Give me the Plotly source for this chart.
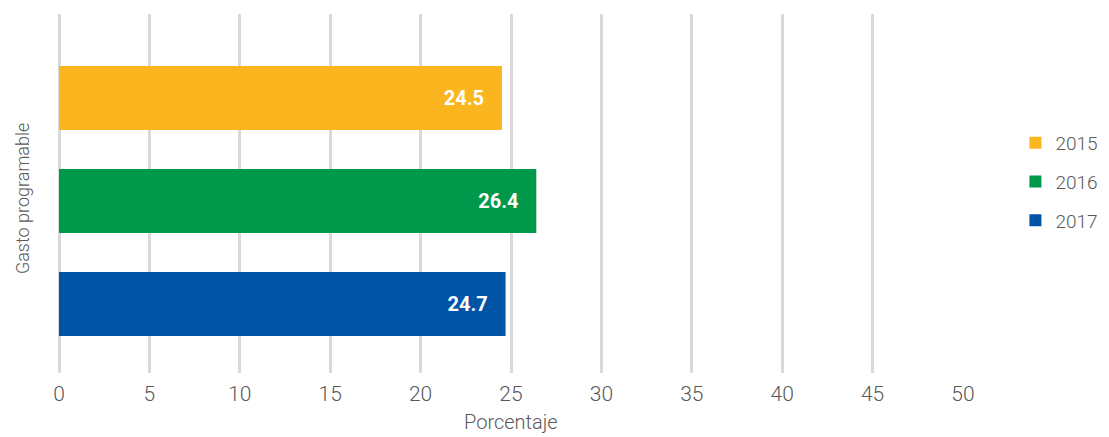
import plotly.graph_objects as go

category = ["Gasto programable"]
years = ["2015", "2016", "2017"]
values = {"2015": [24.5], "2016": [26.4], "2017": [24.7]}
colors = {"2015": "#FBB51E", "2016": "#00984A", "2017": "#0054A6"}

FONT = "Roboto"
GREY = "#595959"

fig = go.Figure()
for rank, yr in reversed(list(enumerate(years))):
    fig.add_trace(go.Bar(
        y=category, x=values[yr], name=yr, orientation="h", legendgroup=yr,
        legendrank=rank + 1,
        marker=dict(color=colors[yr], line=dict(width=0)),
        texttemplate="%{x:.1f}\u00a0\u00a0\u00a0", textposition="inside",
        insidetextanchor="end",
        textfont=dict(color="white", size=20, family=FONT, weight="bold"),
    ))

fig.update_layout(
    width=1093, height=429,
    margin=dict(l=51, r=138, t=6, b=64, autoexpand=False),
    plot_bgcolor="white", paper_bgcolor="white",
    barmode="group", bargap=0.139, bargroupgap=0.379,
    font=dict(family=FONT, size=21, color=GREY, weight=300),
    showlegend=True,
    legend=dict(traceorder="grouped", x=1.058, y=0.532, xanchor="left", yanchor="middle",
                font=dict(size=19, color=GREY, weight=300), itemwidth=30, tracegroupgap=11,
                bgcolor="rgba(0,0,0,0)"),
    xaxis=dict(range=[0, 50], tick0=0, dtick=5, showgrid=True, gridcolor="#D9D9D9",
               gridwidth=2.5, zeroline=True, zerolinecolor="#D9D9D9", zerolinewidth=2.5,
               showline=False, ticks="", ticklabelstandoff=6, automargin=False,
               tickfont=dict(size=21, color=GREY, weight=300)),
    yaxis=dict(range=[-0.479, 0.521], showticklabels=False, showgrid=False, zeroline=False,
               automargin=False),
    annotations=[
        dict(text="Porcentaje", xref="paper", yref="paper", x=0.5, y=-0.176,
             xanchor="center", yanchor="bottom", showarrow=False,
             font=dict(size=20, color=GREY, family=FONT, weight=300)),
        dict(text="Gasto programable", xref="paper", yref="paper", x=-0.041, y=0.487,
             xanchor="center", yanchor="middle", textangle=-90, showarrow=False,
             font=dict(size=18, color=GREY, family=FONT, weight=300)),
    ],
)

fig.write_html("out.html")
